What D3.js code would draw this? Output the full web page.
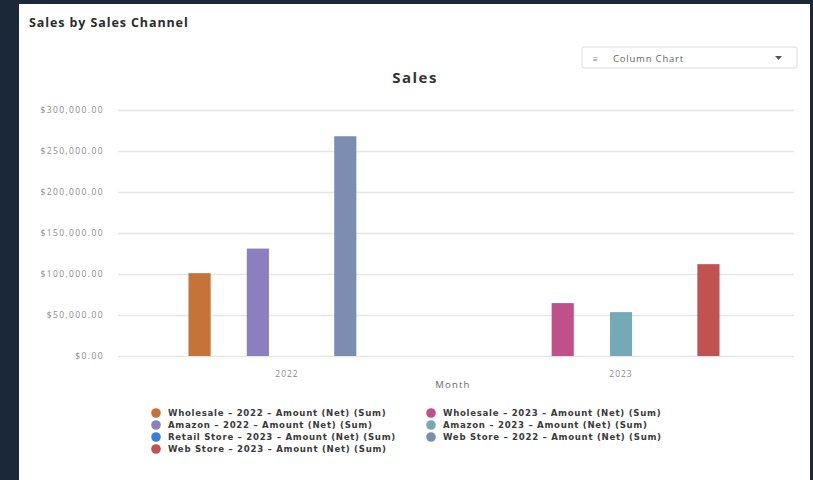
<!DOCTYPE html>
<html>
<head>
<meta charset="utf-8">
<script src="https://cdn.jsdelivr.net/npm/d3@7"></script>
<style>
  html, body { margin: 0; padding: 0; background: #1b2837; }
  svg { display: block; font-family: "Open Sans", "Noto Sans", sans-serif; }
</style>
</head>
<body>
<svg id="chart" width="813" height="480"></svg>
<script>
// Categories on the x axis
const years = ["2022", "2023"];

// Series (legend order) and their sums per year; null where no data
const seriesNames = [
  "Wholesale – 2022 – Amount (Net) (Sum)",
  "Wholesale – 2023 – Amount (Net) (Sum)",
  "Amazon – 2022 – Amount (Net) (Sum)",
  "Amazon – 2023 – Amount (Net) (Sum)",
  "Retail Store – 2023 – Amount (Net) (Sum)",
  "Web Store – 2022 – Amount (Net) (Sum)",
  "Web Store – 2023 – Amount (Net) (Sum)"
];
const values2022 = [101000, null, 131000, null, null, 268000, null];
const values2023 = [null, 64500, null, 53500, null, null, 112000];
const seriesColors = ["#c6733a", "#c0508a", "#8c7fbf", "#76a9b6", "#3b7be0", "#7b8eb2", "#c05250"];

// Y tick values
const yTicks = [0, 50000, 100000, 150000, 200000, 250000, 300000];

const svg = d3.select("#chart");

// Card
svg.append("rect").attr("x", 19).attr("y", 4).attr("width", 791).attr("height", 480)
  .attr("fill", "#ffffff");

svg.append("text").attr("x", 29).attr("y", 27)
  .attr("font-size", 12.5).attr("font-weight", 700).attr("letter-spacing", 0.9)
  .attr("fill", "#2b2b2b").text("Sales by Sales Channel");

// Chart type selector
const sel = svg.append("g").attr("transform", "translate(582,47)");
sel.append("rect").attr("width", 215).attr("height", 21).attr("rx", 2)
  .attr("fill", "#fff").attr("stroke", "#dcdcdc");
sel.append("text").attr("x", 11).attr("y", 14.5).attr("font-size", 8).attr("fill", "#777").text("≡");
sel.append("text").attr("x", 31).attr("y", 14.5).attr("font-size", 9.5).attr("letter-spacing", 0.8)
  .attr("fill", "#666").text("Column Chart");
sel.append("path").attr("d", "M193,9 L200,9 L196.5,13 Z").attr("fill", "#555");

// Chart title
svg.append("text").attr("x", 415).attr("y", 83).attr("text-anchor", "middle")
  .attr("font-size", 15).attr("font-weight", 700).attr("letter-spacing", 1.5)
  .attr("fill", "#333").text("Sales");

const plot = { left: 118, right: 794, top: 110, bottom: 356 };

const y = d3.scaleLinear().domain([0, 300000]).range([plot.bottom, plot.top]);
const x0 = d3.scaleBand().domain(years).range([plot.left + 2, plot.right - 6]).paddingInner(0).paddingOuter(0);
const x1 = d3.scaleBand().domain(d3.range(seriesNames.length))
  .range([0, x0.bandwidth()]).paddingInner(0.24).paddingOuter(2.35);

// Gridlines
svg.append("g").selectAll("line").data(yTicks).join("line")
  .attr("x1", plot.left).attr("x2", plot.right)
  .attr("y1", d => Math.round(y(d)) + 0.5).attr("y2", d => Math.round(y(d)) + 0.5)
  .attr("stroke", "#e6e6e6").attr("stroke-width", 1.5);

// Y axis labels
const fmt = d3.format("$,.2f");
const yAxis = d3.axisLeft(y).tickValues(yTicks).tickFormat(fmt).tickSize(0).tickPadding(0);
const gy = svg.append("g").attr("transform", `translate(${plot.left - 14},0)`).call(yAxis);
gy.select(".domain").remove();
gy.selectAll("text").attr("font-size", 8.5).attr("letter-spacing", 1.4).attr("fill", "#8a8a8a")
  .attr("font-family", "'Open Sans', sans-serif");

// X axis labels
const xAxis = d3.axisBottom(x0).tickSize(0).tickPadding(0);
const gx = svg.append("g").attr("transform", `translate(0,${plot.bottom + 15})`).call(xAxis);
gx.select(".domain").remove();
gx.selectAll("text").attr("font-size", 8.5).attr("letter-spacing", 1).attr("fill", "#8a8a8a")
  .attr("font-family", "'Open Sans', sans-serif");

svg.append("text").attr("x", 453).attr("y", 388).attr("text-anchor", "middle")
  .attr("font-size", 9.5).attr("letter-spacing", 1.2).attr("fill", "#666").text("Month");

// Bars
const rows = years.map((yr, i) => ({ year: yr, vals: i === 0 ? values2022 : values2023 }));
svg.append("g").selectAll("g").data(rows).join("g")
  .attr("transform", d => `translate(${x0(d.year)},0)`)
  .selectAll("rect")
  .data(d => d.vals.map((v, k) => ({ k, v })).filter(e => e.v != null))
  .join("rect")
  .attr("x", e => x1(e.k))
  .attr("width", x1.bandwidth())
  .attr("y", e => y(e.v))
  .attr("height", e => y(0) - y(e.v))
  .attr("fill", e => seriesColors[e.k]);

// Legend: two columns, row-major
const legend = svg.append("g");
const items = legend.selectAll("g").data(seriesNames).join("g")
  .attr("transform", (d, i) => `translate(${i % 2 === 0 ? 156 : 431},${413 + Math.floor(i / 2) * 12})`);
items.append("circle").attr("r", 4.8).attr("fill", (d, i) => seriesColors[i]);
items.append("text").attr("x", 12).attr("y", 3.2)
  .attr("font-family", "'DejaVu Sans', sans-serif")
  .attr("font-size", 8.6).attr("font-weight", 700).attr("letter-spacing", 0.7)
  .attr("fill", "#3a3a3a").text(d => d);
</script>
</body>
</html>
